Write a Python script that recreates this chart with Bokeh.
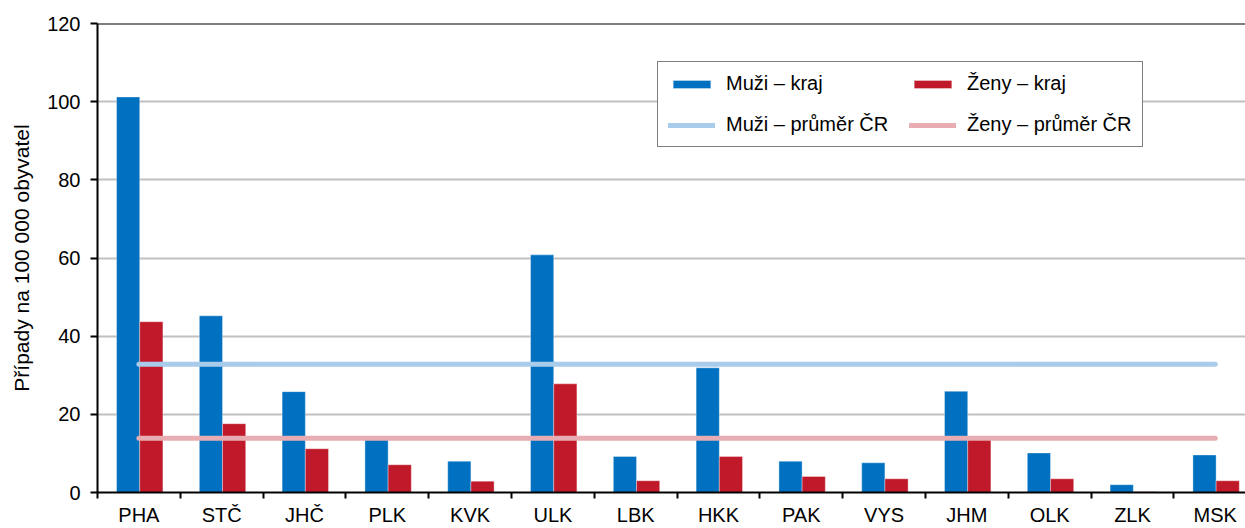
import numpy as np
from bokeh.plotting import figure
from bokeh.models import Range1d, FixedTicker, Span, Legend, LegendItem, ColumnDataSource
from bokeh.embed import file_html
from bokeh.resources import INLINE

categories = ["PHA", "STČ", "JHČ", "PLK", "KVK", "ULK", "LBK", "HKK",
              "PAK", "VYS", "JHM", "OLK", "ZLK", "MSK"]
muzi_kraj = [101.2, 45.2, 25.8, 13.8, 8.0, 60.8, 9.2, 31.9, 8.0, 7.6, 25.9, 10.1, 2.0, 9.6]
zeny_kraj = [43.7, 17.6, 11.2, 7.1, 2.9, 27.8, 3.0, 9.2, 4.1, 3.5, 13.6, 3.5, 0.2, 3.0]
muzi_prumer_cr = 32.8
zeny_prumer_cr = 13.9
y_ticks = [0, 20, 40, 60, 80, 100, 120]
y_label = "Případy na 100 000 obyvatel"

FONT = "Liberation Sans"
BLUE = "#0070c0"
RED = "#c0192a"
LBLUE = "#a8cce9"
PINK = "#e8adb3"

n = len(categories)
idx = np.arange(n)

src = ColumnDataSource(dict(
    xm=idx + 0.37, xz=idx + 0.65, muzi=muzi_kraj, zeny=zeny_kraj,
))

p = figure(width=1245, height=528, output_backend="svg", toolbar_location=None,
           x_range=Range1d(0, n - 0.135), y_range=Range1d(0, 120),
           min_border_left=97, min_border_right=0, min_border_top=23,
           min_border_bottom=35)
p.outline_line_color = None
p.background_fill_color = "white"

rm = p.vbar(x="xm", top="muzi", width=0.28, source=src, fill_color=BLUE,
            line_color="white", line_alpha=0.35, line_width=1)
rz = p.vbar(x="xz", top="zeny", width=0.28, source=src, fill_color=RED,
            line_color="white", line_alpha=0.35, line_width=1)

lm = p.line(x=[0.5, n - 0.5], y=[muzi_prumer_cr, muzi_prumer_cr], line_color=LBLUE,
            line_width=5, line_cap="round")
lz = p.line(x=[0.5, n - 0.5], y=[zeny_prumer_cr, zeny_prumer_cr], line_color=PINK,
            line_width=5, line_cap="round")

p.add_layout(Span(location=y_ticks[-1], dimension="width", line_color="black",
                  line_width=2))

# Y axis
p.yaxis.ticker = FixedTicker(ticks=y_ticks)
p.yaxis.axis_label = y_label
p.yaxis.axis_label_text_font = FONT
p.yaxis.axis_label_text_font_size = "21px"
p.yaxis.axis_label_text_font_style = "normal"
p.yaxis.axis_label_text_color = "black"
p.yaxis.axis_label_standoff = 11
p.yaxis.major_label_text_font = FONT
p.yaxis.major_label_text_font_size = "20px"
p.yaxis.major_label_text_color = "black"
p.yaxis.major_label_standoff = 10
p.yaxis.major_tick_out = 7
p.yaxis.major_tick_in = 0
p.yaxis.major_tick_line_width = 2
p.yaxis.minor_tick_line_color = None
p.yaxis.axis_line_width = 2
p.yaxis.axis_line_color = "black"

# X axis
p.xaxis.ticker = FixedTicker(ticks=[i + 0.5 for i in range(n)],
                             minor_ticks=list(range(n + 1)))
p.xaxis.major_label_overrides = {i + 0.5: c for i, c in enumerate(categories)}
p.xaxis.major_label_text_font = FONT
p.xaxis.major_label_text_font_size = "20px"
p.xaxis.major_label_text_color = "black"
p.xaxis.major_label_standoff = 5
p.xaxis.major_tick_line_color = None
p.xaxis.major_tick_out = 0
p.xaxis.major_tick_in = 0
p.xaxis.minor_tick_out = 6
p.xaxis.minor_tick_in = 0
p.xaxis.minor_tick_line_width = 2
p.xaxis.minor_tick_line_color = "black"
p.xaxis.axis_line_width = 2
p.xaxis.axis_line_color = "black"

p.xgrid.grid_line_color = None
p.ygrid.ticker = FixedTicker(ticks=y_ticks[1:-1])
p.ygrid.grid_line_color = "#c0c0c0"
p.ygrid.grid_line_width = 2

legend = Legend(items=[
    LegendItem(label="Muži – kraj", renderers=[rm]),
    LegendItem(label="Muži – průměr ČR", renderers=[lm]),
    LegendItem(label="Ženy – kraj", renderers=[rz]),
    LegendItem(label="Ženy – průměr ČR", renderers=[lz]),
], ncols=2, location=(560, 345))
legend.label_text_font = FONT
legend.label_text_font_size = "20px"
legend.label_text_color = "black"
legend.glyph_width = 47
legend.glyph_height = 10
legend.label_standoff = 11
legend.label_width = 165
legend.label_height = 20
legend.spacing = 18
legend.padding = 10
legend.margin = 0
legend.border_line_color = "black"
legend.border_line_width = 1.5
legend.background_fill_color = "white"
legend.background_fill_alpha = 1
p.add_layout(legend, "center")

open("out.html", "w").write(file_html(p, INLINE))
